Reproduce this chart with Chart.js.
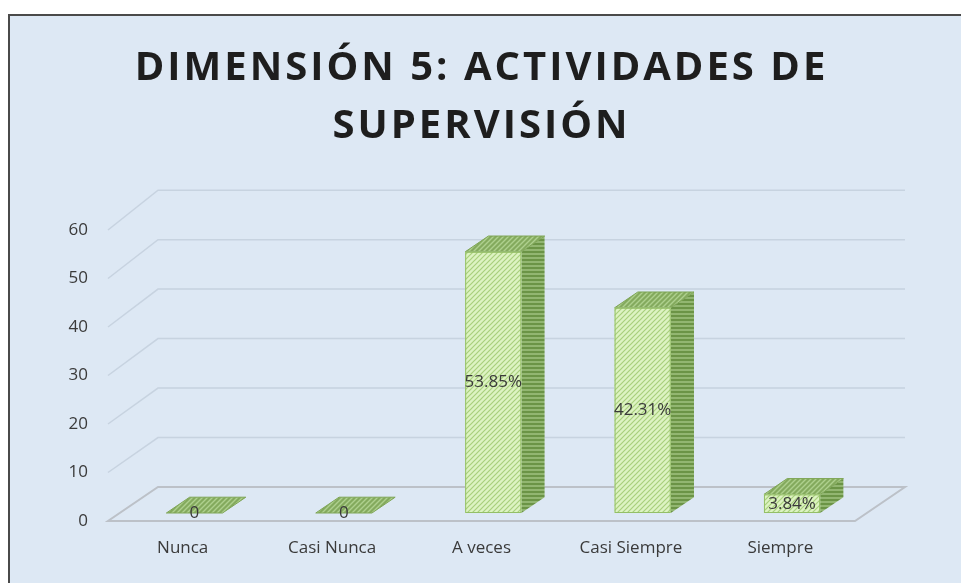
<!DOCTYPE html>
<html>
<head>
<meta charset="utf-8">
<script src="https://cdn.jsdelivr.net/npm/chart.js@4.4.0/dist/chart.umd.min.js"></script>
<style>
body { margin: 0; background: #fff; }
#frame { position: absolute; left: 8px; top: 14px; width: 1000px; height: 620px; border: 2px solid #4a4a4a; background: #dde8f4; }
#wrap { position: absolute; left: 0; top: 0; width: 961px; height: 583px; }
</style>
</head>
<body>
<div id="frame"></div>
<div id="wrap"><canvas id="myChart" width="961" height="583"></canvas></div>
<script>
var categories = ['Nunca', 'Casi Nunca', 'A veces', 'Casi Siempre', 'Siempre'];
var values = [0, 0, 53.85, 42.31, 3.84];
var valueLabels = ['0', '0', '53.85%', '42.31%', '3.84%'];
var titleLines = ['DIMENSIÓN 5: ACTIVIDADES DE', 'SUPERVISIÓN'];

// fake 3d depth
var DEPTH_X = 50, DEPTH_Y = 34;
var FRONT = 0.235, BACK = 0.70;

function makePattern(bg, fg, dir, size, lw) {
    var c = document.createElement('canvas');
    c.width = size; c.height = size;
    var g = c.getContext('2d');
    g.fillStyle = bg;
    g.fillRect(0, 0, size, size);
    g.strokeStyle = fg;
    g.lineWidth = lw;
    g.beginPath();
    if (dir === 'diag') {
        g.moveTo(-1, size + 1); g.lineTo(size + 1, -1);
        g.moveTo(-1, 1); g.lineTo(1, -1);
        g.moveTo(size - 1, size + 1); g.lineTo(size + 1, size - 1);
    } else {
        g.moveTo(0, size / 2); g.lineTo(size, size / 2);
    }
    g.stroke();
    return g.createPattern(c, 'repeat');
}

var frontPat = makePattern('#ddf3c2', '#a8cf7c', 'diag', 5, 1.2);
var sidePat = makePattern('#6b9446', '#9fc281', 'horiz', 4, 1.5);
var topPat = makePattern('#84aa5e', '#aed08e', 'diag', 5, 1.4);

function backY(a, yf) {
    return a.bottom - DEPTH_Y - (a.bottom - yf) * 1.02;
}

var wallPlugin = {
    id: 'wall',
    beforeDatasetsDraw: function(chart) {
        var ctx = chart.ctx, a = chart.chartArea, ys = chart.scales.y;
        ctx.save();
        ctx.strokeStyle = 'rgba(150,162,178,0.3)';
        ctx.lineWidth = 1.5;
        ys.ticks.forEach(function(t) {
            if (t.value === 0) return;
            var yf = ys.getPixelForValue(t.value), yb = backY(a, yf);
            ctx.beginPath();
            ctx.moveTo(a.left, yf);
            ctx.lineTo(a.left + DEPTH_X, yb);
            ctx.lineTo(a.right + DEPTH_X, yb);
            ctx.stroke();
        });
        var yb0 = backY(a, a.bottom);
        ctx.strokeStyle = '#bcc1c8';
        ctx.lineWidth = 2;
        ctx.beginPath();
        ctx.moveTo(a.left, a.bottom);
        ctx.lineTo(a.right, a.bottom);
        ctx.lineTo(a.right + DEPTH_X, yb0);
        ctx.lineTo(a.left + DEPTH_X, yb0);
        ctx.closePath();
        ctx.stroke();
        ctx.restore();
    },
    afterDatasetsDraw: function(chart) {
        var ctx = chart.ctx;
        var meta = chart.getDatasetMeta(0);
        var fx = FRONT * DEPTH_X, fy = FRONT * DEPTH_Y;
        var dx = (BACK - FRONT) * DEPTH_X, dy = (BACK - FRONT) * DEPTH_Y;
        ctx.save();
        meta.data.forEach(function(el, i) {
            var p = el.getProps(['x', 'y', 'base', 'width'], true);
            var l = p.x - p.width / 2 + fx, r = p.x + p.width / 2 + fx;
            var top = p.y - fy, bot = p.base - fy;
            // side
            ctx.fillStyle = sidePat;
            ctx.beginPath();
            ctx.moveTo(r, top); ctx.lineTo(r + dx, top - dy);
            ctx.lineTo(r + dx, bot - dy); ctx.lineTo(r, bot);
            ctx.closePath();
            ctx.fill();
            // top
            ctx.fillStyle = topPat;
            ctx.strokeStyle = '#7ea556';
            ctx.lineWidth = 1;
            ctx.beginPath();
            ctx.moveTo(l, top); ctx.lineTo(r, top);
            ctx.lineTo(r + dx, top - dy); ctx.lineTo(l + dx, top - dy);
            ctx.closePath();
            ctx.fill();
            ctx.stroke();
            // front
            if (bot - top > 0.5) {
                ctx.fillStyle = frontPat;
                ctx.fillRect(l, top, r - l, bot - top);
                ctx.strokeStyle = '#94bf66';
                ctx.strokeRect(l + 0.5, top + 0.5, r - l - 1, bot - top - 1);
            }
            ctx.fillStyle = '#3a3a3a';
            ctx.font = '17px "Open Sans"';
            ctx.textAlign = 'center';
            ctx.textBaseline = 'middle';
            ctx.fillText(valueLabels[i], (l + r) / 2, (top + bot) / 2);
        });
        ctx.restore();
    },
    afterDraw: function(chart) {
        var ctx = chart.ctx;
        ctx.save();
        ctx.fillStyle = '#1e1e1e';
        ctx.font = 'bold 40px "Open Sans"';
        ctx.letterSpacing = '3px';
        ctx.textAlign = 'center';
        ctx.textBaseline = 'alphabetic';
        ctx.fillText(titleLines[0], chart.width / 2 + 1, 80);
        ctx.fillText(titleLines[1], chart.width / 2 + 1, 138);
        ctx.restore();
    }
};

var ctx = document.getElementById('myChart').getContext('2d');
var myChart = new Chart(ctx, {
    type: 'bar',
    data: {
        labels: categories,
        datasets: [{
            data: values,
            backgroundColor: 'rgba(0,0,0,0)',
            borderWidth: 0,
            categoryPercentage: 1,
            barPercentage: 0.376
        }]
    },
    options: {
        responsive: false,
        animation: false,
        devicePixelRatio: 1,
        layout: { padding: { left: 0, right: 106, top: 230, bottom: 0 } },
        plugins: {
            legend: { display: false },
            title: { display: false },
            tooltip: { enabled: false }
        },
        scales: {
            y: {
                min: 0,
                max: 60,
                afterFit: function(scale) { scale.width = 108; },
                ticks: {
                    stepSize: 10,
                    padding: 20,
                    color: '#3a3a3a',
                    font: { family: 'Open Sans', size: 17 }
                },
                grid: { display: false, drawTicks: false },
                border: { display: false }
            },
            x: {
                afterFit: function(scale) { scale.height = 62; },
                ticks: {
                    padding: 17,
                    color: '#3a3a3a',
                    font: { family: 'Open Sans', size: 17 }
                },
                grid: { display: false, drawTicks: false },
                border: { display: false }
            }
        }
    },
    plugins: [wallPlugin]
});
</script>
</body>
</html>
